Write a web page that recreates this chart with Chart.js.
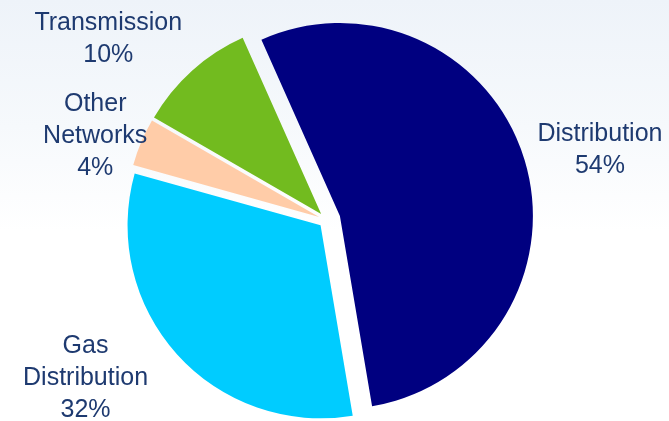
<!DOCTYPE html>
<html>
<head>
<meta charset="utf-8">
<script src="https://cdn.jsdelivr.net/npm/chart.js@4/dist/chart.umd.min.js"></script>
<style>
  html, body { margin: 0; padding: 0; }
  body {
    width: 669px; height: 421px; overflow: hidden;
    background: linear-gradient(to bottom, #eef3f9 0%, #f6f9fc 30%, #ffffff 55%, #ffffff 100%);
  }
  #wrap { position: relative; width: 669px; height: 421px; }
</style>
</head>
<body>
<div id="wrap"><canvas id="pieChart"></canvas></div>
<script>
const categories = [['Distribution'], ['Gas', 'Distribution'], ['Other', 'Networks'], ['Transmission']];
const shares = [54, 32, 4, 10];
const sliceColors = ['#000080', '#00ccff', '#ffcca8', '#72bb1f'];

// pull each slice out from the centre along its middle angle (px)
const explode = [14, 8, 8, 8];
// label block anchor, in radii along the slice's middle angle (x, y)
const labelReach = [[1.48, 1.13], [1.68, 1.28], [1.30, 1.03], [1.69, 1.21]];

const explodedSlices = {
    id: 'explodedSlices',
    beforeDatasetDraw(chart, args) {
        const ctx = chart.ctx;
        args.meta.data.forEach((arc, i) => {
            const mid = (arc.startAngle + arc.endAngle) / 2;
            ctx.save();
            ctx.translate(Math.cos(mid) * explode[i], Math.sin(mid) * explode[i]);
            arc.draw(ctx);
            ctx.restore();
        });
        return false;
    }
};

const outsideLabels = {
    id: 'outsideLabels',
    afterDatasetsDraw(chart) {
        const ctx = chart.ctx;
        const meta = chart.getDatasetMeta(0);
        const lh = 32;
        ctx.save();
        ctx.font = '25px "Liberation Sans", Arial, sans-serif';
        ctx.fillStyle = '#1e3a70';
        ctx.textAlign = 'center';
        ctx.textBaseline = 'alphabetic';
        meta.data.forEach((arc, i) => {
            const mid = (arc.startAngle + arc.endAngle) / 2;
            const r = arc.outerRadius;
            const x = arc.x + Math.cos(mid) * r * labelReach[i][0];
            const y = arc.y + Math.sin(mid) * r * labelReach[i][1];
            const lines = [...categories[i], shares[i] + '%'];
            const top = y - (lines.length - 1) * lh / 2;
            lines.forEach((t, k) => ctx.fillText(t, x, top + k * lh));
        });
        ctx.restore();
    }
};

new Chart(document.getElementById('pieChart').getContext('2d'), {
    type: 'pie',
    data: {
        labels: categories.map(c => c.join(' ')),
        datasets: [{
            data: shares,
            backgroundColor: sliceColors,
            borderWidth: 0
        }]
    },
    options: {
        responsive: true,
        maintainAspectRatio: false,
        animation: false,
        rotation: -24,
        radius: 193,
        layout: {padding: {top: 19, bottom: 0, left: 0, right: 16}},
        plugins: {
            legend: {display: false},
            tooltip: {enabled: false}
        }
    },
    plugins: [explodedSlices, outsideLabels]
});
</script>
</body>
</html>
